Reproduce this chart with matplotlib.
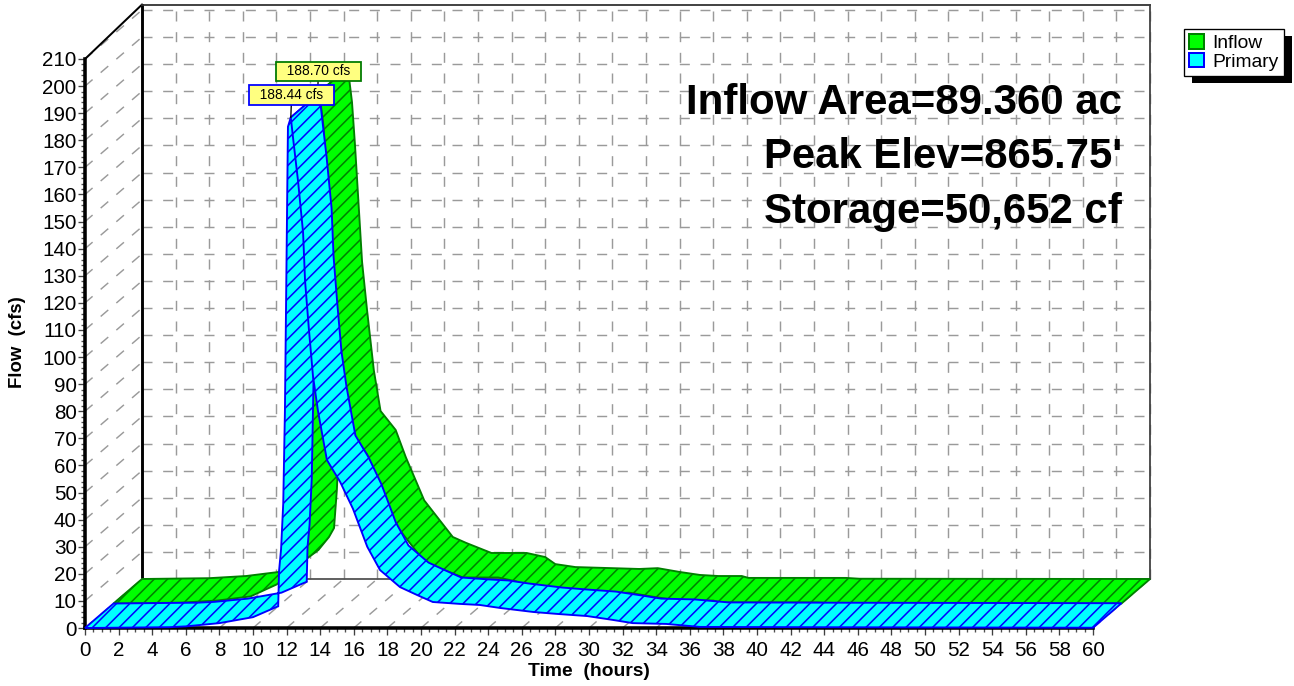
import matplotlib
matplotlib.use('Agg')
import matplotlib.pyplot as plt
import numpy as np
from matplotlib.patches import Polygon, Patch, Rectangle
from matplotlib.ticker import MultipleLocator
from matplotlib.transforms import IdentityTransform

W, H = 1294, 686
DPI = 160

inflow_t = [0, 4, 6.2, 8.15, 9.7, 10.5, 11.13, 11.43, 11.6, 11.75, 11.9, 12.05, 12.25, 12.5, 12.68,
            13.1, 13.4, 13.8, 14.2, 15.1, 15.7, 16.8, 18.5, 19.3, 20.8, 22.9, 24, 24.6, 25.8, 28,
            29.6, 30.7, 32, 33.2, 34.3, 35.7, 36.1, 41.9, 42.7, 60]
inflow_q = [0, 0.3, 1.1, 2.6, 7, 10.7, 15.5, 18.8, 33, 55, 100, 165, 188.7, 176, 160,
            117, 99, 77, 62, 55, 45, 29, 15.5, 13.3, 9.6, 9.6, 8.1, 5.5, 4.4, 4,
            3.7, 4, 2.6, 1.5, 1.1, 1.1, 0.4, 0.4, 0.1, 0]

primary_t = [0, 5, 6, 8, 10, 11.3, 11.5, 11.55, 11.67, 11.8, 11.9, 12, 12.08, 12.25, 12.4, 12.68,
             12.98, 13.1, 13.33, 13.57, 13.87, 14.4, 15.18, 15.95, 16.8, 17.56, 18.75, 19.76, 20.7,
             22.3, 23.5, 24.7, 26.7, 28.1, 29.9, 31.4, 32.6, 34.6, 36.6, 42.7, 60]
primary_q = [0, 0.3, 0.6, 1.8, 4, 7.5, 8, 21, 29, 46, 80, 138, 185, 188.44, 180, 165,
             146, 128, 110, 93, 80, 62, 54, 44, 30, 21.4, 15.1, 12.2, 9.6,
             8.9, 8.5, 7.4, 5.9, 5.2, 4.4, 3, 1.8, 1.5, 0.4, 0.3, 0.1]

x_ticks = np.arange(0, 61, 2)
y_ticks = np.arange(0, 211, 10)
notes = ['Inflow Area=89.360 ac', "Peak Elev=865.75'", 'Storage=50,652 cf']
note_y = [103, 157, 212]

# depth of the fake 3d box, in data units
DX = 57 / 16.8
DY = 49 / 2.7095

plt.rcParams['font.family'] = ['Liberation Sans', 'DejaVu Sans']
plt.rcParams['lines.scale_dashes'] = False
plt.rcParams['hatch.linewidth'] = 0.7

fig = plt.figure(figsize=(W / DPI, H / DPI), dpi=DPI, facecolor='white')
ax = fig.add_axes([85 / W, 1 - 628 / H, 1008 / W, 569 / H])
ax.set_facecolor('none')
ax.set_xlim(0, 60)
ax.set_ylim(0, 210)

# walls and floor grid
dash = dict(color='#9a9a9a', lw=0.65, ls=(0, (4.5, 4.8)), clip_on=False, zorder=1)
wall_top = 210 + DY + 2
for q in y_ticks[1:]:
    ax.plot([DX, 60 + DX], [q + DY, q + DY], **dash)
    ax.plot([0, DX], [q, q + DY], **dash)
for t in x_ticks:
    ax.plot([t + DX, t + DX], [DY, wall_top], **dash)
    ax.plot([t, t + DX], [0, DY], **dash)

ax.plot([DX, DX], [DY, wall_top], color='black', lw=1.3, clip_on=False, zorder=1.5)
ax.plot([0, DX], [210, wall_top], color='black', lw=0.9, clip_on=False, zorder=1.5)
ax.plot([DX, 60 + DX], [wall_top, wall_top], color='#303030', lw=0.8, clip_on=False, zorder=1.5)
ax.plot([DX, 60 + DX], [DY, DY], color='#505050', lw=0.8, clip_on=False, zorder=1.5)
ax.plot([60 + DX, 60 + DX], [DY, wall_top], color='#404040', lw=0.8, clip_on=False, zorder=1.5)


def ribbon(t, q, d0, d1, face, edge, z):
    # rising limb first, then the falling limb lies over it
    t = np.array(t, dtype=float)
    q = np.array(q, dtype=float)
    pk = int(np.argmax(q))
    for i, part in enumerate([slice(0, pk + 1), slice(pk, None)]):
        tp, qp = t[part], q[part]
        front = np.column_stack([tp + d0 * DX, qp + d0 * DY])
        back = np.column_stack([tp + d1 * DX, qp + d1 * DY])
        pts = np.vstack([front, back[::-1]])
        ax.add_patch(Polygon(pts, closed=True, facecolor=face, edgecolor=edge, hatch='////',
                             lw=0.85, clip_on=False, zorder=z + i))
    return t[pk], q[pk]


GREEN, DGREEN = '#00ff00', '#008000'
CYAN, BLUE = '#00ffff', '#0000ff'
pk_in = ribbon(inflow_t, inflow_q, 0.5, 1.0, GREEN, DGREEN, 3)
pk_pr = ribbon(primary_t, primary_q, 0.0, 0.5, CYAN, BLUE, 5)

# peak callouts
ax.annotate('  %.2f cfs  ' % pk_in[1], xy=(pk_in[0] + 0.5 * DX - 0.1, pk_in[1] + 0.5 * DY), xytext=(0.4, 6.2),
            textcoords='offset points', ha='center', va='bottom', fontsize=6.2, zorder=9, annotation_clip=False,
            bbox=dict(boxstyle='square,pad=0.2', fc='#ffff80', ec='#007a00', lw=0.8),
            arrowprops=dict(arrowstyle='-', color='black', lw=0.6, shrinkA=0, shrinkB=0))
ax.annotate('  %.2f cfs  ' % pk_pr[1], xy=(pk_pr[0], pk_pr[1]), xytext=(0.4, 7),
            textcoords='offset points', ha='center', va='bottom', fontsize=6.2, zorder=10, annotation_clip=False,
            bbox=dict(boxstyle='square,pad=0.2', fc='#ffff80', ec=BLUE, lw=0.8),
            arrowprops=dict(arrowstyle='-', color='black', lw=0.6, shrinkA=0, shrinkB=0))

# axes
for s in ['top', 'right']:
    ax.spines[s].set_visible(False)
for s in ['left', 'bottom']:
    ax.spines[s].set_linewidth(1.6)
    ax.spines[s].set_zorder(2.5)
ax.set_xticks(x_ticks)
ax.set_yticks(y_ticks)
ax.xaxis.set_minor_locator(MultipleLocator(0.5))
ax.yaxis.set_minor_locator(MultipleLocator(2))
ax.tick_params(which='major', length=3.2, width=0.6, labelsize=9.3, color='#404040')
ax.tick_params(which='minor', length=2, width=0.6, color='#505050')
ax.tick_params(axis='x', which='major', pad=2.8)
ax.tick_params(axis='y', which='major', pad=0.6)
fig.text(589 / W, 1 - 672 / H, 'Time  (hours)', fontsize=8.7, fontweight='bold', ha='center', va='center')
fig.text(18 / W, 1 - 342 / H, 'Flow  (cfs)', fontsize=8.4, fontweight='bold', rotation=90, ha='center', va='center')

for s, y in zip(notes, note_y):
    fig.text(1122 / W, 1 - y / H, s, fontsize=18.9, fontweight='bold', ha='right', va='center', zorder=12)

# legend with hard shadow
handles = [Patch(facecolor=GREEN, edgecolor=DGREEN, lw=0.9, label='Inflow'),
           Patch(facecolor=CYAN, edgecolor=BLUE, lw=0.9, label='Primary')]
leg = ax.legend(handles=handles, loc='upper left', bbox_to_anchor=(1184 / W, 1 - 29 / H),
                bbox_transform=fig.transFigure, borderaxespad=0, fancybox=False, framealpha=1,
                edgecolor='black', fontsize=8.7, handlelength=0.8, handleheight=0.8,
                handletextpad=0.42, labelspacing=0.02, borderpad=0.26)
leg.get_frame().set_linewidth(0.6)
fig.canvas.draw()
box = leg.get_window_extent()
fig.add_artist(Rectangle((box.x0 + 8, box.y0 - 7), box.width, box.height, facecolor='black', edgecolor='none',
                         transform=IdentityTransform(), zorder=-1))

plt.savefig('out.png', dpi=DPI)
plt.close()
